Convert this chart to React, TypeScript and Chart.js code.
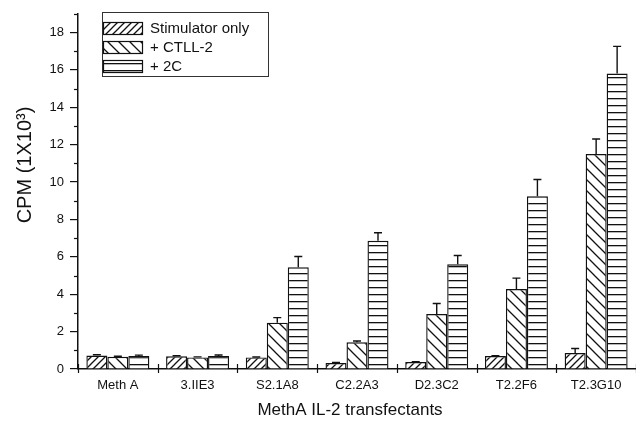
import { useEffect, useRef } from 'react';
import { Chart, registerables } from 'chart.js';

Chart.register(...registerables);

const categories = ['Meth A', '3.IIE3', 'S2.1A8', 'C2.2A3', 'D2.3C2', 'T2.2F6', 'T2.3G10'];
const seriesNames = ['Stimulator only', '+ CTLL-2', '+ 2C'];
const stimulatorOnly = [0.72, 0.68, 0.62, 0.32, 0.37, 0.69, 0.85];
const stimulatorErr = [0.04, 0.03, 0.02, 0.03, 0.02, 0.02, 0.25];
const ctll2 = [0.65, 0.62, 2.48, 1.43, 2.94, 4.28, 11.5];
const ctll2Err = [0.03, 0.03, 0.27, 0.07, 0.56, 0.58, 0.8];
const twoC = [0.7, 0.7, 5.44, 6.86, 5.6, 9.24, 15.8];
const twoCErr = [0.04, 0.05, 0.58, 0.43, 0.47, 0.9, 1.46];
const yTicks = [0, 2, 4, 6, 8, 10, 12, 14, 16, 18];
const yMinorTicks = [1, 3, 5, 7, 9, 11, 13, 15, 17, 19];
const yTitle = 'CPM (1X10³)';
const xTitle = 'MethA IL-2 transfectants';

const FONT = "'Liberation Sans', Arial, Helvetica, sans-serif";
const INK = '#111';

function makePattern(kind: 'fwd' | 'back' | 'horiz'): CanvasPattern | string {
  const c = document.createElement('canvas');
  const ctx = c.getContext('2d');
  if (!ctx) return '#fff';
  if (kind === 'horiz') {
    c.width = 4;
    c.height = 7;
    ctx.fillStyle = '#fff';
    ctx.fillRect(0, 0, 4, 7);
    ctx.fillStyle = INK;
    ctx.fillRect(0, 0, 4, 1.3);
  } else {
    const n = kind === 'fwd' ? 7 : 11;
    c.width = n;
    c.height = n;
    ctx.fillStyle = '#fff';
    ctx.fillRect(0, 0, n, n);
    ctx.strokeStyle = INK;
    ctx.lineWidth = 1.3;
    ctx.beginPath();
    if (kind === 'fwd') {
      ctx.moveTo(0, n); ctx.lineTo(n, 0);
      ctx.moveTo(-1, 1); ctx.lineTo(1, -1);
      ctx.moveTo(n - 1, n + 1); ctx.lineTo(n + 1, n - 1);
    } else {
      ctx.moveTo(0, 0); ctx.lineTo(n, n);
      ctx.moveTo(n - 1, -1); ctx.lineTo(n + 1, 1);
      ctx.moveTo(-1, n - 1); ctx.lineTo(1, n + 1);
    }
    ctx.stroke();
  }
  const p = ctx.createPattern(c, 'repeat');
  return p || '#fff';
}

export default function App() {
  const ref = useRef<HTMLCanvasElement | null>(null);

  useEffect(() => {
    if (!ref.current) return;
    const patterns = [makePattern('fwd'), makePattern('back'), makePattern('horiz')];
    const values = [stimulatorOnly, ctll2, twoC];
    const errs = [stimulatorErr, ctll2Err, twoCErr];

    const extras = {
      id: 'extras',
      afterDatasetsDraw(chart: any) {
        const ctx = chart.ctx as CanvasRenderingContext2D;
        const y = chart.scales.y;
        ctx.save();
        ctx.strokeStyle = INK;
        ctx.lineWidth = 1.4;
        values.forEach((arr, di) => {
          const meta = chart.getDatasetMeta(di);
          meta.data.forEach((bar: any, i: number) => {
            const top = y.getPixelForValue(arr[i]);
            const end = y.getPixelForValue(arr[i] + errs[di][i]);
            ctx.beginPath();
            ctx.moveTo(bar.x, top);
            ctx.lineTo(bar.x, end);
            ctx.moveTo(bar.x - 4, end);
            ctx.lineTo(bar.x + 4, end);
            ctx.stroke();
          });
        });
        ctx.restore();
      },
      afterDraw(chart: any) {
        const ctx = chart.ctx as CanvasRenderingContext2D;
        const x = chart.scales.x;
        const y = chart.scales.y;
        const area = chart.chartArea;
        ctx.save();
        ctx.strokeStyle = INK;
        ctx.lineWidth = 1.2;
        // minor y ticks
        yMinorTicks.forEach((v) => {
          const py = Math.round(y.getPixelForValue(v)) + 0.5;
          ctx.beginPath();
          ctx.moveTo(area.left - 4, py);
          ctx.lineTo(area.left, py);
          ctx.stroke();
        });
        // x separators
        for (let i = 0; i <= categories.length; i++) {
          const px = Math.round(x.getPixelForValue(i - 0.5)) + 0.5;
          if (px > area.right + 1) continue;
          ctx.beginPath();
          ctx.moveTo(px, area.bottom - 5);
          ctx.lineTo(px, area.bottom + 4);
          ctx.stroke();
        }
        // legend
        ctx.lineWidth = 1;
        ctx.strokeStyle = '#333';
        ctx.strokeRect(102.5, 12.5, 166, 64);
        ctx.font = `15px ${FONT}`;
        ctx.textBaseline = 'middle';
        ctx.textAlign = 'left';
        ctx.fillStyle = INK;
        const rows = [28, 47, 66];
        seriesNames.forEach((name, k) => {
          const ry = rows[k];
          ctx.fillStyle = patterns[k] as any;
          ctx.fillRect(103, ry - 6, 40, 12);
          ctx.strokeStyle = INK;
          ctx.lineWidth = 1.2;
          ctx.strokeRect(103.5, ry - 5.5, 39, 12);
          ctx.fillStyle = INK;
          ctx.fillText(name, 150, ry + 1);
        });
        // axis titles
        ctx.font = `17px ${FONT}`;
        ctx.textAlign = 'center';
        ctx.fillText(xTitle, (area.left + area.right) / 2 - 7, 410);
        ctx.save();
        ctx.translate(25, 165);
        ctx.rotate(-Math.PI / 2);
        ctx.font = `20px ${FONT}`;
        ctx.fillText(yTitle, 0, 0);
        ctx.restore();
        ctx.restore();
      },
    };

    const chart = new Chart(ref.current, {
      type: 'bar',
      data: {
        labels: categories,
        datasets: seriesNames.map((name, k) => ({
          label: name,
          data: values[k],
          backgroundColor: patterns[k] as any,
          borderColor: INK,
          borderWidth: 1.4,
          categoryPercentage: 0.79,
          barPercentage: 1,
        })),
      },
      options: {
        animation: false,
        responsive: true,
        maintainAspectRatio: false,
        layout: { padding: { top: 9, right: 0, left: 0, bottom: 0 } },
        plugins: {
          legend: { display: false },
          tooltip: { enabled: false },
          title: { display: false },
        },
        scales: {
          x: {
            type: 'category',
            offset: true,
            grid: { display: false, drawTicks: false },
            border: { display: true, color: INK, width: 1.5 },
            ticks: { color: INK, font: { family: FONT, size: 13 }, padding: 9, maxRotation: 0, autoSkip: false },
            afterFit(scale: any) { scale.height = 59; },
          },
          y: {
            type: 'linear',
            min: 0,
            max: 19,
            grid: { display: true, drawOnChartArea: false, drawTicks: true, tickLength: 8, color: INK, lineWidth: 1.2 },
            border: { display: true, color: INK, width: 1.5 },
            ticks: { color: INK, font: { family: FONT, size: 13 }, padding: 6 },
            afterBuildTicks(scale: any) { scale.ticks = yTicks.map((v) => ({ value: v })); },
            afterFit(scale: any) { scale.width = 78; },
          },
        },
      },
      plugins: [extras],
    });
    return () => chart.destroy();
  }, []);

  return (
    <div style={{ position: 'absolute', left: 0, top: 0, width: 636, height: 428, background: '#fff' }}>
      <canvas ref={ref} />
    </div>
  );
}
